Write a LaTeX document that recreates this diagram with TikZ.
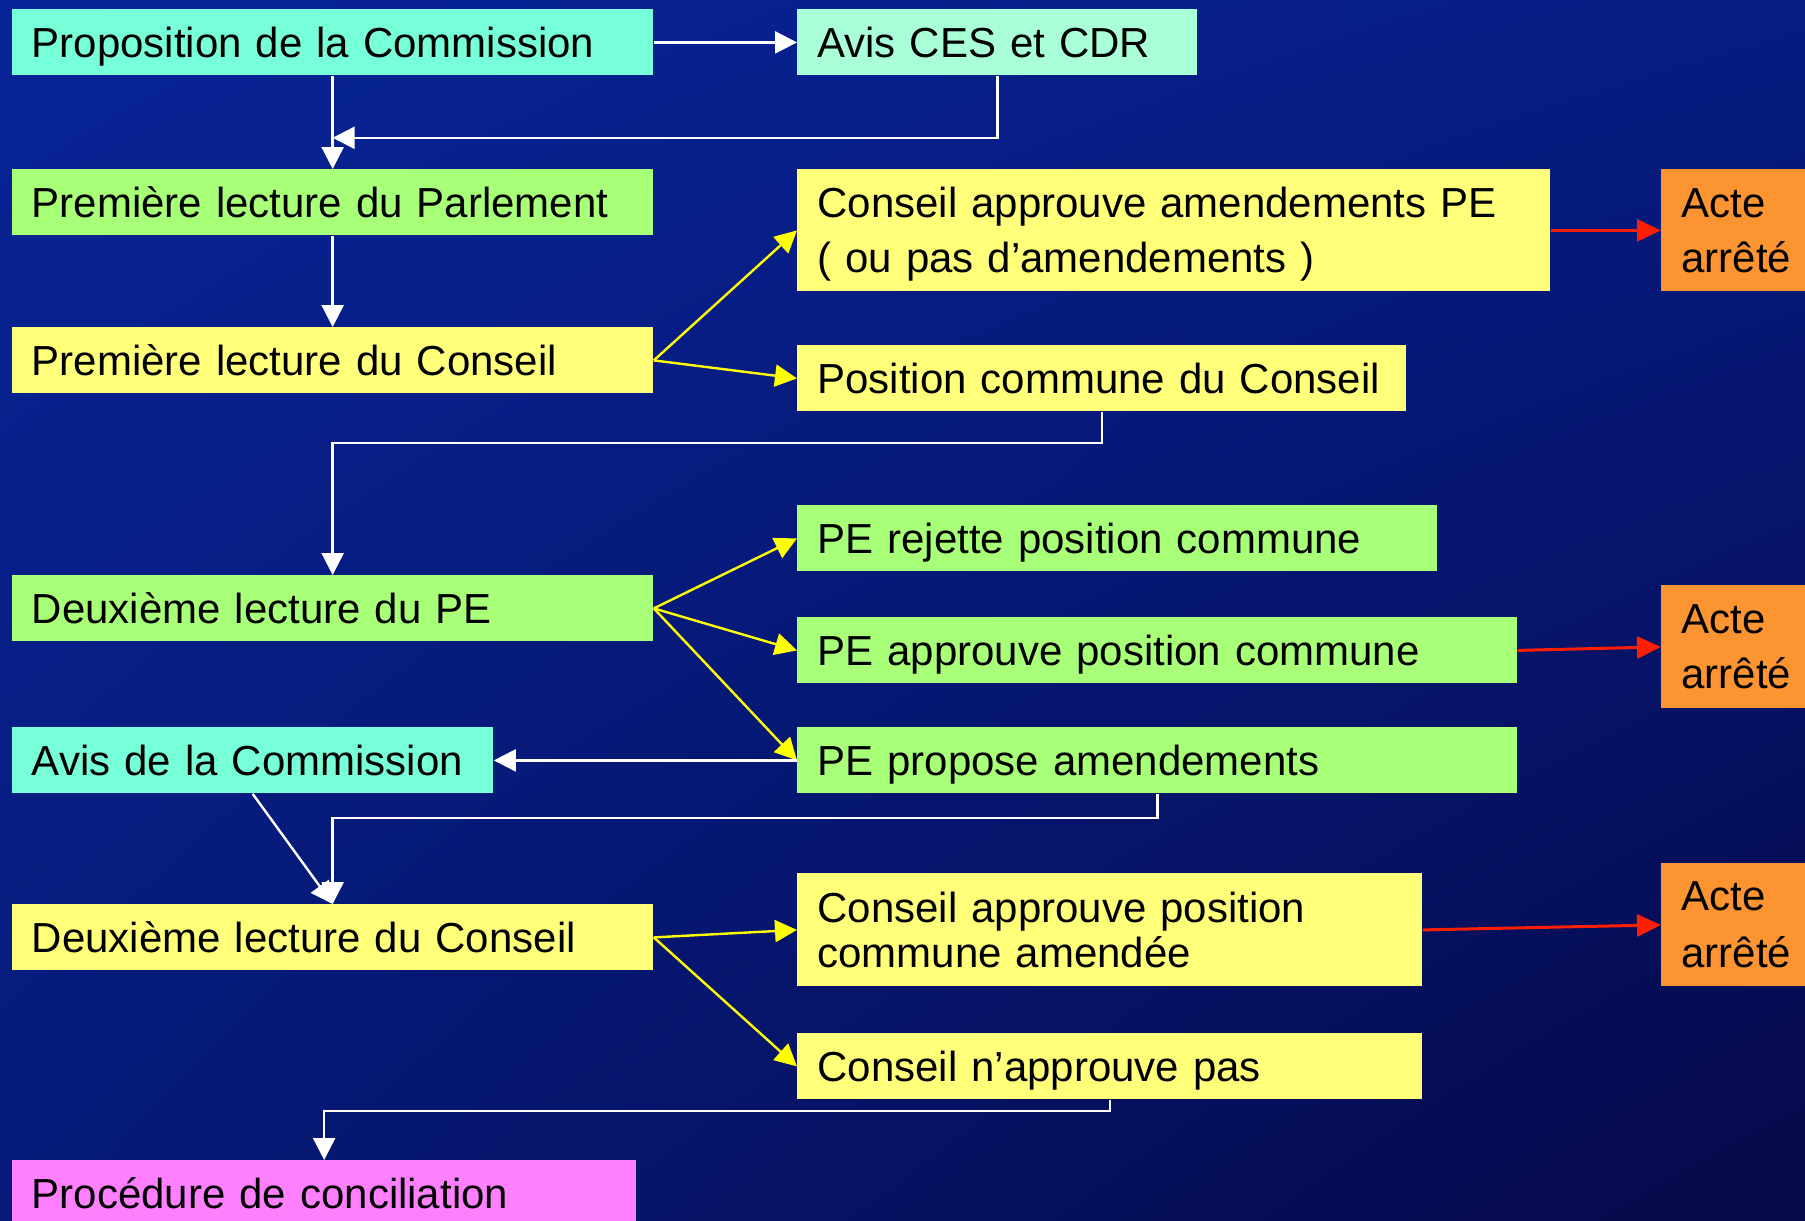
\documentclass[tikz,border=0pt]{standalone}
\usepackage{fontspec}
\setmainfont{Liberation Sans}
\usetikzlibrary{arrows.meta,shadings}
\definecolor{bgTL}{RGB}{8,36,152}
\definecolor{bgTR}{RGB}{6,28,130}
\definecolor{bgBL}{RGB}{6,26,120}
\definecolor{bgBR}{RGB}{6,8,72}
\definecolor{aqua}{RGB}{118,255,216}
\definecolor{mint}{RGB}{168,255,216}
\definecolor{lgreen}{RGB}{168,255,120}
\definecolor{lyellow}{RGB}{255,255,122}
\definecolor{orng}{RGB}{253,148,50}
\definecolor{pinkc}{RGB}{255,128,255}
\definecolor{redc}{RGB}{255,30,0}
\definecolor{yel}{RGB}{255,255,0}
\begin{document}
\begin{tikzpicture}[x=0.5pt,y=-0.5pt,
  bx/.style={anchor=north west, inner xsep=10pt, inner ysep=0pt, align=left,
    font=\fontsize{21}{25}\selectfont, text=black},
  one/.style={bx, minimum height=33pt, text height=20pt, text depth=5pt},
  wa/.style={white, line width=1.2pt, -{Triangle[length=11pt,width=11pt]}},
  ya/.style={yel, line width=1.2pt, -{Triangle[length=11pt,width=11pt]}},
  ra/.style={redc, line width=1.5pt, -{Triangle[length=12pt,width=11pt]}}]
\useasboundingbox (0,0) rectangle (1805,1221);
\shade[upper left=bgTL, upper right=bgTR, lower left=bgBL, lower right=bgBR] (0,0) rectangle (1805,1221);

% nodes
\node[one, fill=aqua, text width=300.75pt] (prop) at (11.5,9) {Proposition de la Commission};
\node[one, fill=mint, text width=180pt] (avisces) at (797,9) {Avis CES et CDR};
\node[one, fill=lgreen, text width=300.75pt] (parl) at (11.5,169) {Première lecture du Parlement};
\node[one, fill=lyellow, text width=300.75pt] (cons1) at (11.5,327) {Première lecture du Conseil};
\node[bx, fill=lyellow, text width=356.5pt, minimum height=61pt, font=\fontsize{21}{27.5}\selectfont] (ca1) at (797,169) {\rule{0pt}{18.7pt}Conseil approuve amendements PE\\( ou pas d’amendements )};
\node[bx, fill=orng, text width=59.5pt, minimum height=61pt, font=\fontsize{21}{27.5}\selectfont] (acte1) at (1661,169) {Acte\\arrêté};
\node[one, fill=lyellow, text width=284.5pt] (pos) at (797,345) {Position commune du Conseil};
\node[one, fill=lgreen, text width=300.75pt] (pe2) at (11.5,575) {Deuxième lecture du PE};
\node[one, fill=lgreen, text width=300pt] (rej) at (797,505) {PE rejette position commune};
\node[one, fill=lgreen, text width=340pt] (app) at (797,617) {PE approuve position commune};
\node[bx, fill=orng, text width=59.5pt, minimum height=61.5pt, font=\fontsize{21}{27.5}\selectfont] (acte2) at (1661,585) {Acte\\arrêté};
\node[one, fill=lgreen, text width=340pt] (propam) at (797,727) {PE propose amendements};
\node[one, fill=aqua, text width=220.75pt] (aviscom) at (11.5,727) {Avis de la Commission};
\node[one, fill=lyellow, text width=300.75pt] (cons2) at (11.5,904) {Deuxième lecture du Conseil};
\node[bx, fill=lyellow, text width=292.5pt, minimum height=56.5pt, font=\fontsize{21}{22.5}\selectfont] (cap) at (797,873) {Conseil approuve position\\commune amendée};
\node[bx, fill=orng, text width=59.5pt, minimum height=61.5pt, font=\fontsize{21}{28.5}\selectfont] (acte3) at (1661,863) {Acte\\arrêté};
\node[one, fill=lyellow, text width=292.5pt] (cnap) at (797,1033) {Conseil n’approuve pas};
\node[one, fill=pinkc, text width=292.25pt] (proc) at (11.5,1160) {Procédure de conciliation};

% connectors
\path (prop.south) ++(0,62) coordinate (j1);
\draw[wa] (prop.east) -- (avisces.west);
\draw[wa] (prop.south) -- (parl.north);
\draw[wa] (avisces.south) |- (j1);
\draw[wa] (parl.south) -- (cons1.north);
\draw[ya] (cons1.east) -- (ca1.west);
\draw[ya] (cons1.east) -- (pos.west);
\draw[ra] (ca1.east) -- (acte1.west);
\draw[wa] (pos.south) -- ++(0,31) -| (pe2.north);
\draw[ya] (pe2.east) -- (rej.west);
\draw[ya] (pe2.east) -- (app.west);
\draw[ya] (pe2.east) -- (propam.west);
\draw[ra] (app.east) -- (acte2.west);
\draw[wa] (propam.west) -- (aviscom.east);
\draw[wa] (propam.south) -- ++(0,24) -| (cons2.north);
\draw[wa] (aviscom.south) -- (cons2.north);
\draw[ya] (cons2.east) -- (cap.west);
\draw[ya] (cons2.east) -- (cnap.west);
\draw[ra] (cap.east) -- (acte3.west);
\draw[wa] (cnap.south) -- ++(0,11) -| (proc.north);
\end{tikzpicture}
\end{document}
